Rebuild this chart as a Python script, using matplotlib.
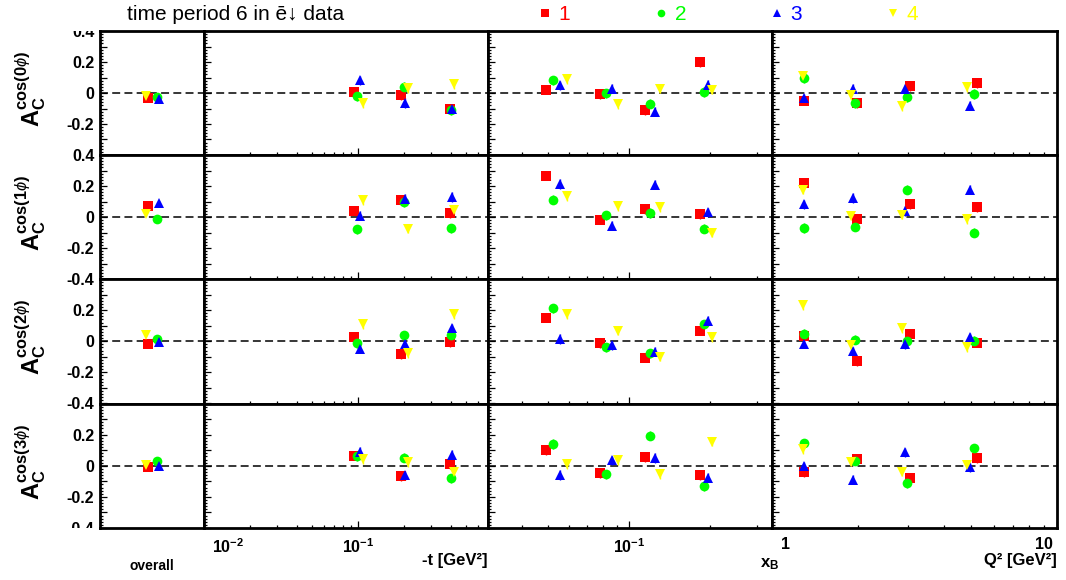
import numpy as np
import matplotlib
matplotlib.use("Agg")
import matplotlib.pyplot as plt
from matplotlib.lines import Line2D
from matplotlib.ticker import FixedLocator, NullFormatter
from matplotlib.transforms import Bbox, TransformedBbox, ScaledTranslation

plt.rcParams['font.family'] = ['Liberation Sans', 'DejaVu Sans']
plt.rcParams['mathtext.fontset'] = 'custom'
plt.rcParams['mathtext.rm'] = 'Liberation Sans'
plt.rcParams['mathtext.it'] = 'Liberation Sans:italic'
plt.rcParams['mathtext.bf'] = 'Liberation Sans:bold'
plt.rcParams['mathtext.sf'] = 'Liberation Sans'

# series 1..4 (red, green, blue, yellow)
series = ['1', '2', '3', '4']
colors = ['#ff0000', '#00ff00', '#0000ff', '#ffff00']
markers = ['s', 'o', '^', 'v']
msizes = [6.5, 7, 7, 7]

# mean kinematics per series and bin
overall_x = [0.46, 0.55, 0.567, 0.44]
t_x = [[0.094, 0.190, 0.396], [0.099, 0.198, 0.402],
       [0.103, 0.203, 0.410], [0.108, 0.211, 0.418]]
xb_x = [[0.0493, 0.0782, 0.1147, 0.1836], [0.0523, 0.0824, 0.1197, 0.1904],
        [0.0553, 0.0864, 0.1248, 0.1967], [0.0588, 0.0911, 0.1302, 0.2032]]
q2_x = [[1.30, 1.98, 3.04, 5.26], [1.30, 1.95, 2.98, 5.12],
        [1.29, 1.92, 2.93, 4.97], [1.28, 1.89, 2.86, 4.82]]

# cos(0phi)
overall0 = [-0.034, -0.028, -0.037, -0.017]
t0 = [[0.004, -0.015, -0.101], [-0.022, 0.039, -0.112], [0.082, -0.065, -0.101], [-0.067, 0.032, 0.056]]
xb0 = [[0.022, -0.009, -0.112, 0.198], [0.082, -0.002, -0.069, 0.006],
       [0.049, 0.028, -0.120, 0.052], [0.088, -0.073, 0.028, 0.022]]
q20 = [[-0.049, -0.067, 0.043, 0.062], [0.097, -0.067, -0.026, -0.006],
       [-0.034, 0.028, 0.028, -0.082], [0.112, -0.015, -0.084, 0.037]]
# cos(1phi)
overall1 = [0.073, -0.015, 0.090, 0.017]
t1 = [[0.041, 0.110, 0.024], [-0.080, 0.095, -0.073], [0.009, 0.118, 0.129], [0.108, -0.075, 0.047]]
xb1 = [[0.267, -0.017, 0.049, 0.017], [0.112, 0.011, 0.026, -0.075],
       [0.213, -0.056, 0.209, 0.030], [0.135, 0.069, 0.062, -0.101]]
q21 = [[0.219, -0.011, 0.082, 0.065], [-0.071, -0.062, 0.176, -0.101],
       [0.082, 0.123, 0.039, 0.176], [0.176, 0.009, 0.015, -0.015]]
# cos(2phi)
overall2 = [-0.017, 0.017, -0.004, 0.043]
t2 = [[0.030, -0.084, -0.006], [-0.013, 0.037, 0.041], [-0.047, -0.015, 0.084], [0.108, -0.077, 0.176]]
xb2 = [[0.151, -0.013, -0.105, 0.069], [0.211, -0.039, -0.077, 0.108],
       [0.015, -0.026, -0.067, 0.131], [0.176, 0.069, -0.099, 0.026]]
q22 = [[0.034, -0.129, 0.049, -0.009], [0.047, 0.011, 0.002, 0.004],
       [-0.015, -0.065, -0.017, 0.026], [0.230, -0.026, 0.082, -0.039]]
# cos(3phi)
overall3 = [-0.006, 0.028, 0.000, 0.006]
t3 = [[0.065, -0.069, 0.011], [0.060, 0.052, -0.080], [0.090, -0.062, 0.069], [0.041, 0.022, -0.043]]
xb3 = [[0.099, -0.047, 0.056, -0.062], [0.140, -0.056, 0.194, -0.133],
       [-0.060, 0.034, 0.049, -0.077], [0.011, 0.037, -0.052, 0.155]]
q23 = [[-0.043, 0.043, -0.077, 0.047], [0.144, 0.032, -0.114, 0.112],
       [-0.004, -0.090, 0.086, -0.011], [0.108, 0.026, -0.037, 0.004]]

err_overall = 0.012
err_bin = 0.03

overall_vals = [overall0, overall1, overall2, overall3]
t_vals = [t0, t1, t2, t3]
xb_vals = [xb0, xb1, xb2, xb3]
q2_vals = [q20, q21, q22, q23]
ylabels = [r'$\mathbf{A}_{\mathbf{C}}^{\mathbf{cos(%d}\phi\mathbf{)}}$' % k for k in range(4)]

# y tick labels of each row; shared row edges carry one label only
ytick_labels = [
    ['', '', '-0.2', '', '0', '', '0.2', '', '0.4'],
    ['-0.4', '', '-0.2', '', '0', '', '0.2', '', '0.4'],
    ['-0.4', '', '-0.2', '', '0', '', '0.2', '', ''],
    ['-0.4', '', '-0.2', '', '0', '', '0.2', '', ''],
]

W, H = 1066, 580
fig = plt.figure(figsize=(W / 100, H / 100), dpi=100)

col_edges = [100, 204, 488, 772, 1057]
row_edges = [31, 155, 279, 403.5, 528]


def make_ax(c, r):
    x0, x1 = col_edges[c], col_edges[c + 1]
    y0, y1 = row_edges[r], row_edges[r + 1]
    return fig.add_axes([x0 / W, 1 - y1 / H, (x1 - x0) / W, (y1 - y0) / H])


def decade_minors(lo, hi):
    out = []
    for e in range(-3, 2):
        for k in range(2, 10):
            v = k * 10.0 ** e
            if lo < v < hi:
                out.append(v)
    return out


def shift_label(lbl, dx):
    lbl.set_transform(lbl.get_transform() + ScaledTranslation(dx / 72, 0, fig.dpi_scale_trans))


# labels at the outer frame edges are cut by the pad, as in the original
clip = TransformedBbox(Bbox([[0, 1 - row_edges[-1] / H], [1, 1 - row_edges[0] / H]]),
                       fig.transFigure)

for r in range(4):
    y0, y1 = row_edges[r], row_edges[r + 1]
    for c in range(4):
        ax = make_ax(c, r)
        ax.set_ylim(-0.4, 0.4)
        for s in ax.spines.values():
            s.set_linewidth(2.0)
        ax.axhline(0, color='black', lw=1.1, ls=(0, (5.2, 2.8)), zorder=1)
        ax.yaxis.set_major_locator(FixedLocator(np.round(np.arange(-0.4, 0.41, 0.1), 2)))
        ax.yaxis.set_minor_locator(FixedLocator(np.round(np.arange(-0.4, 0.401, 0.02), 2)))
        ax.tick_params(axis='both', which='major', direction='in', length=5, width=0.9,
                       top=False, right=False, labelsize=11.5)
        ax.tick_params(axis='both', which='minor', direction='in', length=2.5, width=0.9,
                       top=False, right=False)
        ax.tick_params(axis='y', pad=4)
        ax.tick_params(axis='x', pad=6.5)

        if c == 0:
            ax.set_xlim(0, 1)
            ax.set_xticks([])
            ax.set_yticklabels(ytick_labels[r], fontweight='bold')
            for tk in ax.yaxis.get_major_ticks():
                tk.label1.set_clip_box(clip)
                tk.label1.set_clip_on(True)
            for i in range(4):
                ax.errorbar([overall_x[i]], [overall_vals[r][i]], yerr=err_overall,
                            fmt=markers[i], color=colors[i], ms=msizes[i], mew=0,
                            elinewidth=1, capsize=0, zorder=3)
            continue

        ax.set_yticklabels([])
        ax.set_xscale('log')
        if c == 1:
            xs, vals = t_x, t_vals[r]
            lo, hi = 0.01, 0.7
            majors = [0.01, 0.1]
            labs = [r'$\mathbf{10^{-2}}$', r'$\mathbf{10^{-1}}$']
        elif c == 2:
            xs, vals = xb_x, xb_vals[r]
            lo, hi = 0.03, 0.34
            majors = [0.1]
            labs = [r'$\mathbf{10^{-1}}$']
        else:
            xs, vals = q2_x, q2_vals[r]
            lo, hi = 1.0, 10.0
            majors = [1, 10]
            labs = ['1', '10']
        ax.set_xlim(lo, hi)
        ax.xaxis.set_major_locator(FixedLocator(majors))
        ax.xaxis.set_minor_locator(FixedLocator(decade_minors(lo, hi)))
        ax.xaxis.set_minor_formatter(NullFormatter())
        if r == 3:
            ax.set_xticklabels(labs, fontweight='bold')
            tl = ax.get_xticklabels()
            if c == 1:
                tl[0].set_ha('left')
                shift_label(tl[0], 5.5)
            if c == 3:
                tl[0].set_ha('left')
                shift_label(tl[0], 6.5)
                tl[1].set_ha('right')
                shift_label(tl[1], -3)
        else:
            ax.set_xticklabels([])
        for i in range(4):
            ax.errorbar(xs[i], vals[i], yerr=err_bin, fmt=markers[i], color=colors[i],
                        ms=msizes[i], mew=0, elinewidth=1, capsize=0, zorder=3)

    fig.text(31 / W, 1 - ((y0 + y1) / 2 - 4) / H, ylabels[r], rotation=90,
             ha='center', va='center', fontsize=17)

# axis titles
fig.text(152 / W, 1 - 566 / H, 'overall', ha='center', va='center', fontsize=10, fontweight='bold')
fig.text(488 / W, 1 - 561 / H, '-t [GeV²]', ha='right', va='center', fontsize=12, fontweight='bold')
fig.text(770 / W, 1 - 564 / H, r'$\mathbf{x_{B}}$', ha='center', va='center', fontsize=12)
fig.text(1057 / W, 1 - 561 / H, 'Q² [GeV²]', ha='right', va='center', fontsize=12, fontweight='bold')

# title and legend
fig.text(127 / W, 1 - 15 / H, 'time period 6 in ē↓ data', ha='left', va='center', fontsize=15)
handles = [Line2D([], [], ls='none', marker=markers[i], color=colors[i], ms=5.5, mew=0)
           for i in range(4)]
fig.legend(handles, series, loc='center left', bbox_to_anchor=(537 / W, 1 - 15 / H),
           ncol=4, frameon=False, fontsize=15, handlelength=0.8, handletextpad=0.25,
           columnspacing=3.95, borderpad=0, borderaxespad=0, labelcolor='linecolor')

fig.savefig('out.png', dpi=100)
